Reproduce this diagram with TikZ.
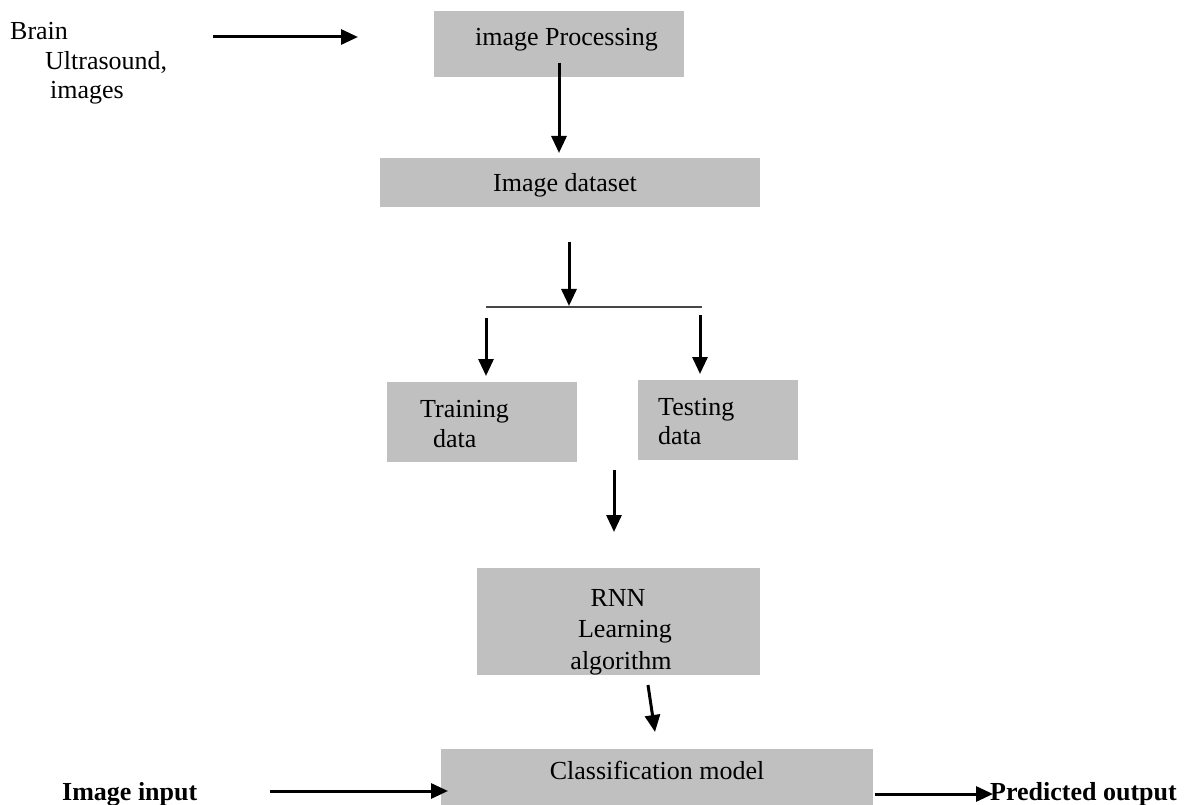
\documentclass[tikz,border=0pt]{standalone}
\usepackage{fontspec}
\setmainfont{Liberation Serif}
\usetikzlibrary{arrows.meta}
\definecolor{boxgray}{RGB}{192,192,192}
\definecolor{splitgray}{RGB}{70,70,70}
\tikzset{
  box/.style={fill=boxgray, draw=none, inner sep=0pt, outer sep=0pt, anchor=north west},
  txt/.style={font=\fontsize{26}{30}\selectfont, inner sep=0pt, anchor=base west},
  ctxt/.style={font=\fontsize{26}{30}\selectfont, inner sep=0pt, anchor=base},
  btxt/.style={font=\fontsize{26}{30}\selectfont\bfseries, inner sep=0pt, anchor=base west},
  arr/.style={line width=3pt, -{Triangle[length=17pt,width=15pt]}},
  splitline/.style={line width=1.5pt, draw=splitgray},
}
\begin{document}
\begin{tikzpicture}[x=1pt,y=-1pt]
\useasboundingbox (0,0) rectangle (1187,805);

% boxes
\node[box, minimum width=250pt, minimum height=66pt] (proc) at (434,11) {};
\node[box, minimum width=380pt, minimum height=49pt] (dset) at (380,158) {};
\node[box, minimum width=190pt, minimum height=80pt] (train) at (387,382) {};
\node[box, minimum width=160pt, minimum height=80pt] (test) at (638,380) {};
\node[box, minimum width=283pt, minimum height=107pt] (rnn) at (477,568) {};
\node[box, minimum width=432pt, minimum height=56pt] (cls) at (441,749) {};

% texts
\node[txt] (brainA) at (10,40) {Brain};
\node[txt] (brainB) at (45,70) {Ultrasound,};
\node[txt] (brainC) at (50,99) {images};
\node[txt] (proctxt) at (475,46) {image Processing};
\node[txt] (dsettxt) at (493,192) {Image dataset};
\node[txt] (traintxtA) at (420,417) {Training};
\node[txt] (traintxtB) at (433,447) {data};
\node[txt] (testtxtA) at (658,415) {Testing};
\node[txt] (testtxtB) at (658,444) {data};
\begin{scope}
  \clip (477,568) rectangle (760,675);
  \node[ctxt] (rnnA) at (618,606) {RNN};
  \node[ctxt] (rnnB) at (625,637) {Learning};
  \node[ctxt] (rnnC) at (621,669) {algorithm};
\end{scope}
\node[ctxt] (clstxt) at (657,779) {Classification model};
\node[btxt] (inp) at (62,800) {Image input};
\node[btxt] (outp) at (990,800) {Predicted output};

% connector ends
\coordinate (a1s) at (213,37);   \coordinate (a1e) at (358,37);
\coordinate (a2s) at (559,63);   \coordinate (a2e) at (559,153);
\coordinate (a3s) at (569,242);  \coordinate (a3e) at (569,306);
\coordinate (sL) at (486,307);   \coordinate (sR) at (702,307);
\coordinate (a4s) at (486,318);  \coordinate (a4e) at (486,376);
\coordinate (a5s) at (700,315);  \coordinate (a5e) at (700,374);
\coordinate (a6s) at (614,470);  \coordinate (a6e) at (614,532);
\coordinate (a7s) at (648,685);  \coordinate (a7e) at (655,732);
\coordinate (a8s) at (270,791);  \coordinate (a8e) at (448,791);
\coordinate (a9s) at (875,794);  \coordinate (a9e) at (993,794);

% connectors
\draw[arr] (a1s) -- (a1e);
\draw[arr] (a2s) -- (a2e);
\draw[splitline] (sL) -- (sR);
\draw[arr] (a3s) -- (a3e);
\draw[arr] (a4s) -- (a4e);
\draw[arr] (a5s) -- (a5e);
\draw[arr] (a6s) -- (a6e);
\draw[arr] (a7s) -- (a7e);
\draw[arr] (a8s) -- (a8e);
\draw[arr] (a9s) -- (a9e);
\end{tikzpicture}
\end{document}
